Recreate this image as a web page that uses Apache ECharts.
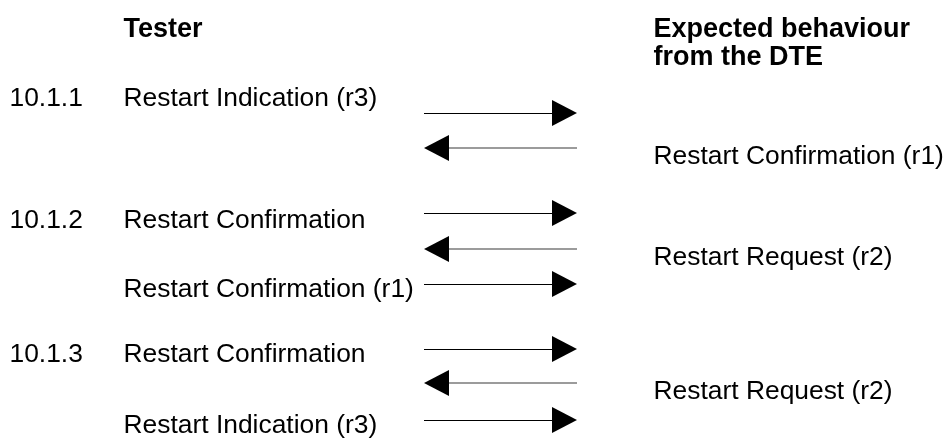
<!DOCTYPE html>
<html>
<head>
<meta charset="utf-8">
<script src="https://cdn.jsdelivr.net/npm/echarts@6/dist/echarts.min.js"></script>
<style>
html, body { margin: 0; padding: 0; background: #fff; }
#app { width: 947px; height: 439px; }
</style>
</head>
<body>
<div id="app"></div>
<script>
// diagram space: x 0..947, y 0..439 (y grows downward)
var headers = [
  ['Tester', 123, 30],
  ['Expected behaviour', 653, 30],
  ['from the DTE', 653, 58]
];
var stepLabels = [
  ['10.1.1', 9, 99],
  ['10.1.2', 9, 221],
  ['10.1.3', 9, 355]
];
var testerMsgs = [
  ['Restart Indication (r3)', 123, 99],
  ['Restart Confirmation', 123, 221],
  ['Restart Confirmation (r1)', 123, 290],
  ['Restart Confirmation', 123, 355],
  ['Restart Indication (r3)', 123, 426]
];
var dteMsgs = [
  ['Restart Confirmation (r1)', 653, 157],
  ['Restart Request (r2)', 653, 258],
  ['Restart Request (r2)', 653, 392]
];
var toDte = [113, 213, 284, 349, 420];   // arrows tester -> DTE
var fromDte = [148, 249, 383];           // arrows DTE -> tester

var arrowStart = 424, arrowEnd = 577, headLen = 25;
var font = "'Liberation Sans', Arial, Helvetica, sans-serif";

function textSeries(name, list, bold) {
  return {
    name: name,
    type: 'scatter',
    symbolSize: 1,
    itemStyle: { color: 'rgba(0,0,0,0)', opacity: 1 },
    silent: true,
    data: list.map(function (t) { return { name: t[0], value: [t[1], t[2]] }; }),
    label: {
      show: true,
      position: 'right',
      distance: 0,
      formatter: '{b}',
      color: '#000',
      opacity: 1,
      fontSize: bold ? 27 : 26.4,
      fontFamily: font,
      fontWeight: bold ? 'bold' : 'normal',
      verticalAlign: 'middle'
    }
  };
}

var shafts = [];
toDte.forEach(function (y) {
  shafts.push({ coords: [[arrowStart, y], [arrowEnd - headLen, y]], lineStyle: { color: '#000', width: 1.2, opacity: 1 } });
});
fromDte.forEach(function (y) {
  shafts.push({ coords: [[arrowStart + headLen, y], [arrowEnd, y]], lineStyle: { color: '#7a7a7a', width: 1.6, opacity: 1 } });
});

var heads = [];
toDte.forEach(function (y) {
  heads.push({ value: [arrowEnd - headLen / 2, y], symbolRotate: -90 });
});
fromDte.forEach(function (y) {
  heads.push({ value: [arrowStart + headLen / 2, y], symbolRotate: 90 });
});

var myChart = echarts.init(document.getElementById('app'));
myChart.setOption({
  backgroundColor: '#fff',
  animation: false,
  grid: { left: 0, right: 0, top: 0, bottom: 0 },
  xAxis: { type: 'value', min: 0, max: 947, show: false },
  yAxis: { type: 'value', min: 0, max: 439, inverse: true, show: false },
  series: [
    {
      name: 'shafts',
      type: 'lines',
      coordinateSystem: 'cartesian2d',
      silent: true,
      lineStyle: { opacity: 1 },
      data: shafts
    },
    {
      name: 'heads',
      type: 'scatter',
      symbol: 'triangle',
      symbolSize: [26, headLen],
      itemStyle: { color: '#000', opacity: 1 },
      silent: true,
      data: heads
    },
    textSeries('headers', headers, true),
    textSeries('steps', stepLabels, false),
    textSeries('tester', testerMsgs, false),
    textSeries('dte', dteMsgs, false)
  ]
});
</script>
</body>
</html>
